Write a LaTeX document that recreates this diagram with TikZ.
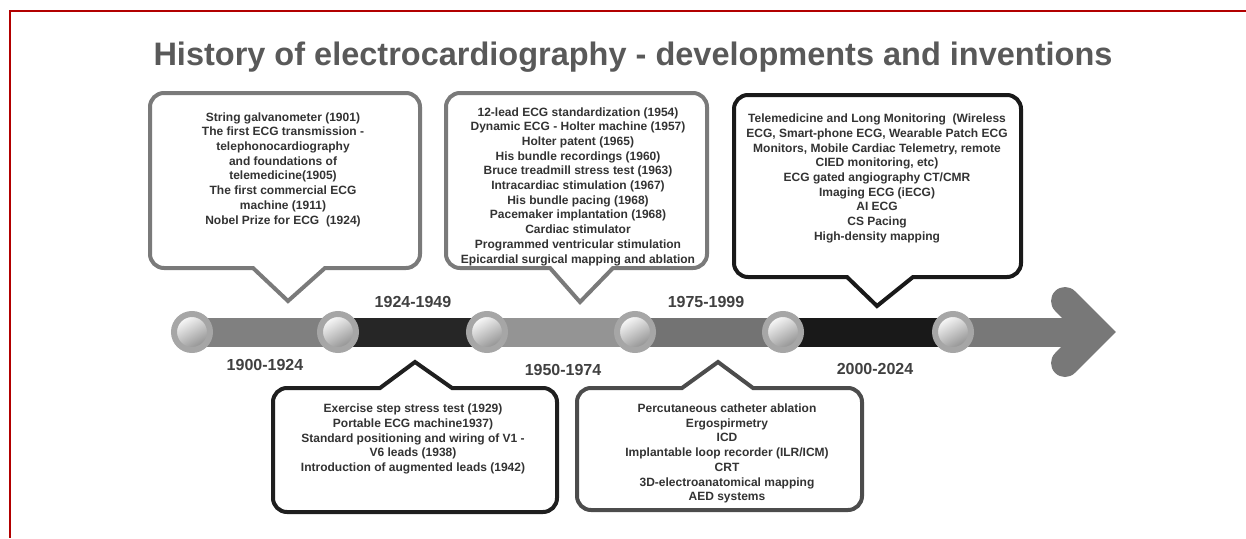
\documentclass[tikz,border=0pt]{standalone}
\usepackage{fontspec}
\setmainfont{Liberation Sans}
\begin{document}
\begin{tikzpicture}[x=1pt,y=-1pt,
	note/.style={align=center,inner sep=0pt,text=black!80,font=\bfseries\fontsize{12}{14.7}\selectfont},
	era/.style={anchor=base,text=black!75,font=\bfseries\fontsize{16}{18}\selectfont},
	callout/.style={draw=#1,line width=4pt,line join=miter,fill=white},
	dot/.style={circle,minimum size=36pt,inner sep=0pt,draw=black!35,line width=6pt,left color=white,right color=black!45,shading angle=30}]
	\useasboundingbox (0,0) rectangle (1246,538);
	\draw[red!70!black,line width=1.5pt] (1246,11) -- (10,11) -- (10,538);
	\node[anchor=base,text=black!65,font=\bfseries\fontsize{32.5}{38}\selectfont] (title) at (633,65) {History of electrocardiography - developments and inventions};
	% time line
	\coordinate (t1) at (192,332);
	\coordinate (t2) at (338,332);
	\coordinate (t3) at (487,332);
	\coordinate (t4) at (635,332);
	\coordinate (t5) at (783,332);
	\coordinate (t6) at (953,332);
	\coordinate (tip) at (1096,332);
	\draw[line width=29pt,black!50] (t1) -- (t2);
	\draw[line width=29pt,black!85] (t2) -- (t3);
	\draw[line width=29pt,black!42] (t3) -- (t4);
	\draw[line width=29pt,black!55] (t4) -- (t5);
	\draw[line width=29pt,black!90] (t5) -- (t6);
	\draw[line width=29pt,black!53] (t6) -- (tip);
	\draw[line width=28pt,black!53,line cap=round,line join=miter] (1065,301) -- (tip) -- (1065,363);
	\node[dot] (c1) at (t1) {};
	\node[dot] (c2) at (t2) {};
	\node[dot] (c3) at (t3) {};
	\node[dot] (c4) at (t4) {};
	\node[dot] (c5) at (t5) {};
	\node[dot] (c6) at (t6) {};
	\node[era] (e1) at (265,370) {1900-1924};
	\node[era] (e2) at (413,307) {1924-1949};
	\node[era] (e3) at (563,375) {1950-1974};
	\node[era] (e4) at (706,307) {1975-1999};
	\node[era] (e5) at (875,374) {2000-2024};
	% callouts above
	\draw[callout=black!52] (200,268) -- (253,268) -- (288,301) -- (325,268) -- (372,268) [rounded corners=14pt] -- (420,268) -- (420,93) -- (150,93) -- (150,268) -- cycle;
	\draw[callout=black!52] (498,268) -- (550,268) -- (580,302) -- (613,268) -- (660,268) [rounded corners=14pt] -- (707,268) -- (707,93) -- (446,93) -- (446,268) -- cycle;
	\draw[callout=black!90] (790,277) -- (847,277) -- (877,306) -- (913,277) -- (967,277) [rounded corners=14pt] -- (1021,277) -- (1021,95) -- (734,95) -- (734,277) -- cycle;
	% callouts below
	\draw[callout=black!88] (326,388) -- (380,388) -- (415,362) -- (452,388) -- (505,388) [rounded corners=14pt] -- (557,388) -- (557,512) -- (273,512) -- (273,388) -- cycle;
	\draw[callout=black!70] (630,388) -- (682,388) -- (718,362) -- (753,388) -- (808,388) [rounded corners=14pt] -- (862,388) -- (862,510) -- (577,510) -- (577,388) -- cycle;
	\node[note] (n1) at (283,169.5) {String galvanometer (1901)\\The first ECG transmission -\\telephonocardiography\\and foundations of\\telemedicine(1905)\\The first commercial ECG\\machine (1911)\\Nobel Prize for ECG\ \ (1924)};
	\node[note] (n2) at (578,186.5) {12-lead ECG standardization (1954)\\Dynamic ECG - Holter machine (1957)\\Holter patent (1965)\\His bundle recordings (1960)\\Bruce treadmill stress test (1963)\\Intracardiac stimulation (1967)\\His bundle pacing (1968)\\Pacemaker implantation (1968)\\Cardiac stimulator\\Programmed ventricular stimulation\\Epicardial surgical mapping and ablation};
	\node[note] (n3) at (877,178.5) {Telemedicine and Long Monitoring\ \ (Wireless\\ECG, Smart-phone ECG, Wearable Patch ECG\\Monitors, Mobile Cardiac Telemetry, remote\\CIED monitoring, etc)\\ECG gated angiography CT/CMR\\Imaging ECG (iECG)\\AI ECG\\CS Pacing\\High-density mapping};
	\node[note] (n4) at (413,439) {Exercise step stress test (1929)\\Portable ECG machine1937)\\Standard positioning and wiring of V1 -\\V6 leads (1938)\\Introduction of augmented leads (1942)};
	\node[note] (n5) at (727,453.5) {Percutaneous catheter ablation\\Ergospirmetry\\ICD\\Implantable loop recorder (ILR/ICM)\\CRT\\3D-electroanatomical mapping\\AED systems};
\end{tikzpicture}
\end{document}
